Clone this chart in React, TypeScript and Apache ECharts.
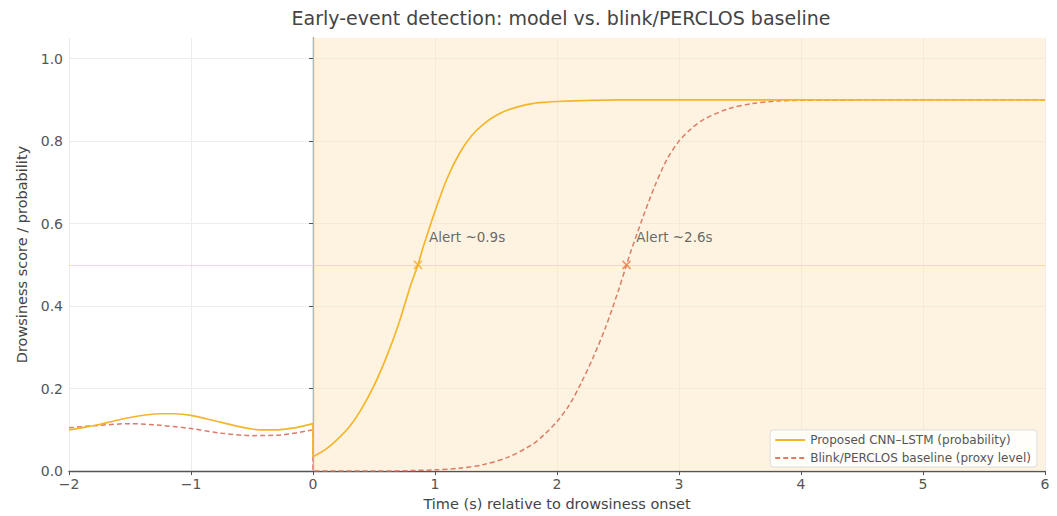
import React, { useEffect, useRef } from "react";
import * as echarts from "echarts";

const TITLE = "Early-event detection: model vs. blink/PERCLOS baseline";
const X_LABEL = "Time (s) relative to drowsiness onset";
const Y_LABEL = "Drowsiness score / probability";
const MODEL_NAME = "Proposed CNN–LSTM (probability)";
const BASE_NAME = "Blink/PERCLOS baseline (proxy level)";

// Proposed CNN-LSTM probability [time, value]
const modelPoints: [number, number][] = [
  [-2, 0.1], [-1.875, 0.106], [-1.75, 0.113], [-1.625, 0.122], [-1.5, 0.13], [-1.375, 0.136],
  [-1.25, 0.139], [-1.125, 0.139], [-1.0, 0.135], [-0.875, 0.127], [-0.75, 0.118],
  [-0.625, 0.109], [-0.5, 0.102], [-0.4, 0.1], [-0.3, 0.1], [-0.2, 0.103], [-0.1, 0.108], [0, 0.115],
  [0, 0.035], [0.1, 0.052], [0.2, 0.077], [0.3, 0.108], [0.4, 0.152], [0.5, 0.207],
  [0.6, 0.275], [0.7, 0.355], [0.8, 0.45], [0.86, 0.5], [0.9, 0.54], [1.0, 0.63],
  [1.1, 0.71], [1.2, 0.77], [1.3, 0.813], [1.4, 0.842], [1.5, 0.862], [1.6, 0.876],
  [1.7, 0.885], [1.8, 0.891], [1.9, 0.894], [2.0, 0.896], [2.2, 0.898], [2.5, 0.9],
  [3, 0.9], [4, 0.9], [5, 0.9], [6, 0.9],
];

// Blink/PERCLOS baseline proxy level [time, value]
const basePoints: [number, number][] = [
  [-2, 0.105], [-1.75, 0.111], [-1.5, 0.115], [-1.25, 0.111], [-1.0, 0.103], [-0.75, 0.092],
  [-0.5, 0.086], [-0.25, 0.088], [0, 0.1],
  [0, 0.0], [0.5, 0.0], [1.0, 0.003], [1.2, 0.007], [1.4, 0.016], [1.6, 0.034], [1.8, 0.065],
  [1.9, 0.09], [2.0, 0.12], [2.1, 0.16], [2.2, 0.215], [2.3, 0.278], [2.4, 0.35], [2.5, 0.435],
  [2.57, 0.5], [2.6, 0.528], [2.7, 0.612], [2.8, 0.69], [2.9, 0.755], [3.0, 0.8], [3.1, 0.83],
  [3.2, 0.852], [3.4, 0.878], [3.6, 0.891], [3.8, 0.897], [4.0, 0.899], [4.5, 0.9], [5, 0.9], [6, 0.9],
];

const alertModel: [number, number] = [0.86, 0.5];
const alertBase: [number, number] = [2.57, 0.5];
const alertModelText = "Alert ~0.9s";
const alertBaseText = "Alert ~2.6s";
const alertModelTextPos: [number, number] = [0.93, 0.568];
const alertBaseTextPos: [number, number] = [2.63, 0.568];

const THRESHOLD = 0.5;
const ONSET = 0;
const X_MIN = -2;
const X_MAX = 6;

const MODEL_COLOR = "#f5b52a";
const BASE_COLOR = "#dc7c66";
const FONT = "DejaVu Sans";
const CROSS = "path://M0,0L10,10M10,0L0,10";
const GRID_C = "#ececec";

export default function App() {
  const ref = useRef<HTMLDivElement>(null);
  useEffect(() => {
    if (!ref.current) return;
    const chart = echarts.init(ref.current, undefined, { renderer: "svg" });
    chart.setOption({
      animation: false,
      backgroundColor: "#ffffff",
      textStyle: { fontFamily: FONT },
      title: {
        text: TITLE,
        left: 556,
        textAlign: "center",
        top: 3,
        textStyle: { fontFamily: FONT, fontSize: 19, fontWeight: "normal", color: "#444" },
      },
      grid: { left: 69, right: 12, top: 38, bottom: 38 },
      legend: {
        data: [MODEL_NAME, BASE_NAME],
        orient: "vertical",
        right: 20,
        top: 430,
        itemWidth: 30,
        itemHeight: 12,
        itemGap: 6,
        padding: [4, 6, 3, 4],
        borderColor: "#dddddd",
        borderWidth: 1,
        borderRadius: 3,
        backgroundColor: "rgba(255,255,255,0.85)",
        itemStyle: { opacity: 0 },
        textStyle: { fontFamily: FONT, fontSize: 12, color: "#555" },
      },
      xAxis: {
        type: "value",
        min: X_MIN,
        max: X_MAX,
        interval: 1,
        name: X_LABEL,
        nameLocation: "middle",
        nameGap: 22,
        nameTextStyle: { fontFamily: FONT, fontSize: 14.5, color: "#444" },
        axisLine: { show: true, lineStyle: { color: "#555", width: 1.3 } },
        axisTick: { show: true, length: 4, lineStyle: { color: "#555" } },
        axisLabel: {
          fontFamily: FONT, fontSize: 14, color: "#555", margin: 6,
          formatter: (v: number) => (v < 0 ? "\u2212" + Math.abs(v) : String(v)),
        },
        splitLine: { show: true, lineStyle: { color: GRID_C, width: 1 } },
      },
      yAxis: {
        type: "value",
        min: 0,
        max: 1.05,
        interval: 0.2,
        name: Y_LABEL,
        nameLocation: "middle",
        nameGap: 35,
        nameTextStyle: { fontFamily: FONT, fontSize: 14.5, color: "#444" },
        axisLine: { show: true, lineStyle: { color: "#555", width: 1.3 } },
        axisTick: { show: true, length: 4, lineStyle: { color: "#555" } },
        axisLabel: {
          fontFamily: FONT, fontSize: 14, color: "#555", margin: 6, showMaxLabel: false,
          formatter: (v: number) => v.toFixed(1),
        },
        splitLine: {
          show: true,
          lineStyle: {
            color: [GRID_C, GRID_C, GRID_C, GRID_C, GRID_C, GRID_C, "rgba(0,0,0,0)"],
            width: 1,
          },
        },
      },
      series: [
        {
          name: MODEL_NAME,
          type: "line",
          data: modelPoints,
          showSymbol: false,
          symbol: "none",
          smooth: 0.3,
          lineStyle: { color: MODEL_COLOR, width: 1.7 },
          itemStyle: { color: MODEL_COLOR },
          z: 5,
          markArea: {
            silent: true,
            itemStyle: { color: "rgba(253,234,200,0.55)" },
            data: [[{ xAxis: ONSET }, { xAxis: X_MAX }]],
          },
          markLine: {
            silent: true,
            symbol: "none",
            label: { show: false },
            data: [
              { xAxis: ONSET, lineStyle: { color: "rgba(245,180,100,0.6)", width: 1, type: "solid" } },
              { yAxis: THRESHOLD, lineStyle: { color: "rgba(240,212,110,0.65)", width: 1, type: "solid" } },
            ],
          },
        },
        {
          name: BASE_NAME,
          type: "line",
          data: basePoints,
          showSymbol: false,
          symbol: "none",
          smooth: 0.3,
          lineStyle: { color: BASE_COLOR, width: 1.5, type: [5, 3] },
          itemStyle: { color: BASE_COLOR },
          z: 4,
        },
        {
          name: "alertModel",
          type: "scatter",
          data: [alertModel],
          symbol: CROSS,
          symbolSize: 8,
          itemStyle: { color: "rgba(0,0,0,0)", borderColor: "#f0ad2a", borderWidth: 1.5 },
          z: 6,
        },
        {
          name: "alertBase",
          type: "scatter",
          data: [alertBase],
          symbol: CROSS,
          symbolSize: 8,
          itemStyle: { color: "rgba(0,0,0,0)", borderColor: "#e7784a", borderWidth: 1.5 },
          z: 6,
        },
        {
          name: "alertText",
          type: "scatter",
          data: [
            { value: alertModelTextPos, label: { formatter: alertModelText } },
            { value: alertBaseTextPos, label: { formatter: alertBaseText } },
          ],
          symbolSize: 1,
          itemStyle: { color: "rgba(0,0,0,0)" },
          label: {
            show: true,
            position: "right",
            distance: 2,
            fontFamily: FONT,
            fontSize: 13.5,
            color: "#444",
          },
          z: 7,
        },
      ],
    });
    return () => chart.dispose();
  }, []);
  return (
    <div
      ref={ref}
      style={{ position: "fixed", left: 0, top: 0, width: 1057, height: 516 }}
    />
  );
}
